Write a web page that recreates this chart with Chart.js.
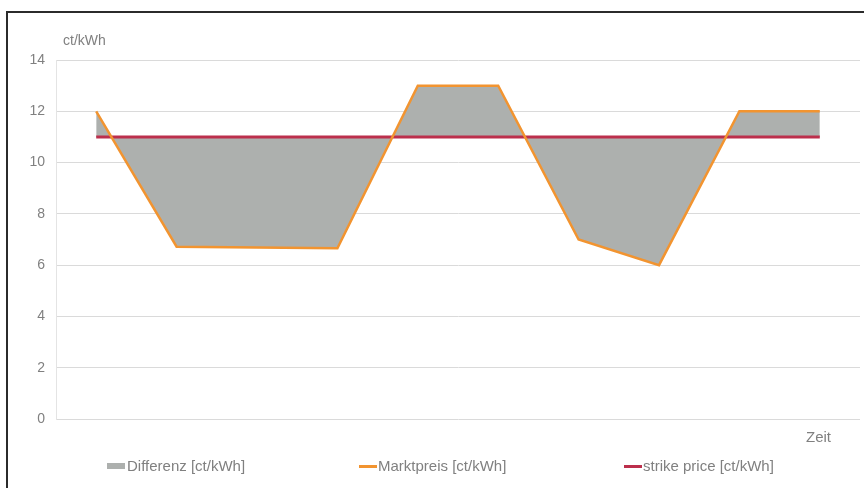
<!DOCTYPE html>
<html>
<head>
<meta charset="utf-8">
<script src="https://cdn.jsdelivr.net/npm/chart.js@4.4.1/dist/chart.umd.min.js"></script>
<style>
  html, body { margin: 0; padding: 0; background: #fff; }
  #wrap { position: relative; width: 864px; height: 488px; overflow: hidden; font-family: "Liberation Sans", Arial, sans-serif; }
  #frame { position: absolute; left: 6px; top: 11px; width: 900px; height: 520px; border: 2px solid #2b2b2b; box-sizing: border-box; }
  #chart { position: absolute; left: 0; top: 0; }
  .lbl { position: absolute; color: #808080; white-space: nowrap; line-height: 1; }
  .box { position: absolute; }
</style>
</head>
<body>
<div id="wrap">
  <div id="frame"></div>
  <canvas id="chart" width="864" height="488"></canvas>
  <div class="lbl" style="left:63px; top:33px; font-size:14px;">ct/kWh</div>
  <div class="lbl" style="left:806px; top:429px; font-size:15px;">Zeit</div>
  <!-- 凡例 -->
  <div class="box" style="left:107px; top:463px; width:18px; height:6px; background:#adb0ae;"></div>
  <div class="lbl" style="left:127px; top:458px; font-size:15px;">Differenz [ct/kWh]</div>
  <div class="box" style="left:359px; top:465px; width:18px; height:3px; background:#f29430;"></div>
  <div class="lbl" style="left:378px; top:458px; font-size:15px;">Marktpreis [ct/kWh]</div>
  <div class="box" style="left:624px; top:465px; width:18px; height:3px; background:#bc2f4c;"></div>
  <div class="lbl" style="left:643px; top:458px; font-size:15px;">strike price [ct/kWh]</div>
</div>
<script>
// 時間軸（ラベルなし）
const zeit = ['t1', 't2', 't3', 't4', 't5', 't6', 't7', 't8', 't9', 't10'];
// 市場価格 [ct/kWh]
const marktpreis = [12, 6.72, 6.69, 6.66, 13, 13, 7, 6, 12, 12];
// ストライク価格 [ct/kWh]
const strikePrice = [11, 11, 11, 11, 11, 11, 11, 11, 11, 11];
// Y軸の目盛り
const yTicks = [0, 2, 4, 6, 8, 10, 12, 14];

const ctx = document.getElementById('chart').getContext('2d');
new Chart(ctx, {
    type: 'line',
    data: {
        labels: zeit,
        datasets: [
            {
                // 差分（市場価格とストライク価格の間を塗りつぶす）
                label: 'Differenz [ct/kWh]',
                data: marktpreis,
                borderWidth: 0,
                borderColor: 'rgba(0,0,0,0)',
                backgroundColor: '#adb0ae',
                pointRadius: 0,
                fill: 2,
                order: 2
            },
            {
                label: 'Marktpreis [ct/kWh]',
                data: marktpreis,
                borderColor: '#f29430',
                borderWidth: 2.5,
                pointRadius: 0,
                fill: false,
                order: 0
            },
            {
                label: 'strike price [ct/kWh]',
                data: strikePrice,
                borderColor: '#bc2f4c',
                borderWidth: 3,
                pointRadius: 0,
                fill: false,
                order: 1
            }
        ]
    },
    options: {
        responsive: false,
        animation: false,
        layout: { padding: { left: 8, right: 4, top: 60, bottom: 69 } },
        scales: {
            x: {
                offset: true,
                ticks: { display: false },
                grid: { display: false },
                border: { display: false },
                afterFit: function(scale) { scale.height = 0; }
            },
            y: {
                min: yTicks[0],
                max: yTicks[yTicks.length - 1],
                afterBuildTicks: function(scale) {
                    scale.ticks = yTicks.map(v => ({ value: v }));
                },
                ticks: {
                    padding: 11,
                    color: '#808080',
                    font: { family: 'Liberation Sans', size: 14 }
                },
                grid: { color: '#dadada', lineWidth: 1, drawTicks: false },
                border: { display: true, color: '#e4e4e4' },
                afterFit: function(scale) { scale.width = 48; }
            }
        },
        plugins: {
            legend: { display: false },
            tooltip: { enabled: false }
        }
    }
});
</script>
</body>
</html>
